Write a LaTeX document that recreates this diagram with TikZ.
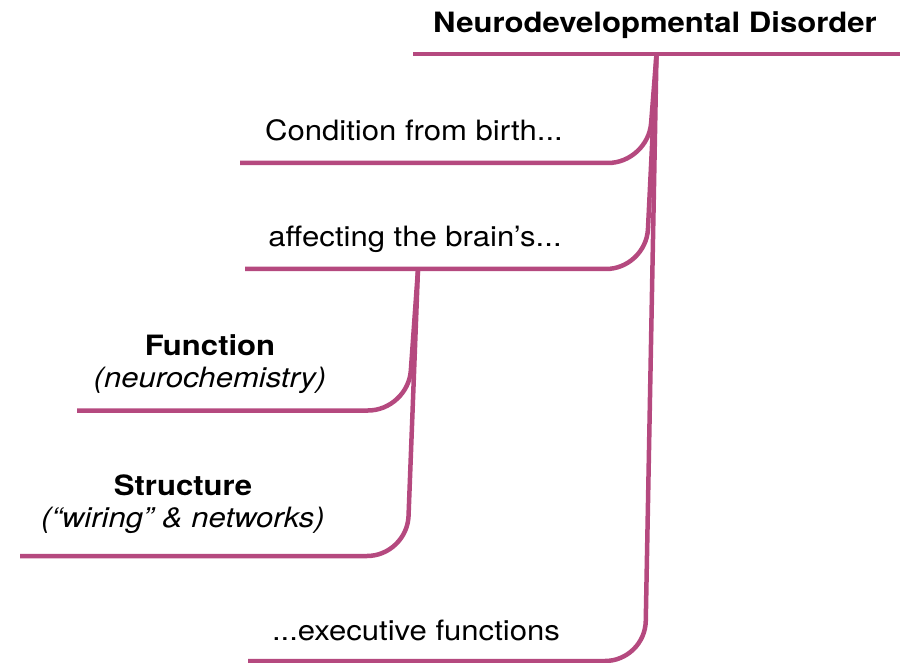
\documentclass[tikz,border=0pt]{standalone}
\usepackage{fontspec}
\setmainfont{TeX Gyre Heros}[FakeStretch=1.11]
\definecolor{mindpink}{RGB}{181,73,127}
\newcommand\mapsize{\fontsize{28}{32}\selectfont}
\tikzset{
  stem/.style={draw=mindpink, line width=4.5pt, rounded corners=40pt},
  topic/.style={inner sep=0pt, anchor=base, font=\mapsize},
  topicbf/.style={topic, font=\mapsize\bfseries},
  topicit/.style={topic, font=\mapsize\itshape},
}

\begin{document}
\begin{tikzpicture}[x=1pt, y=-1pt]
    \useasboundingbox (0,0) rectangle (908,663);
    % labels
    \node[topicbf] (nd) at (655,33) {Neurodevelopmental Disorder};
    \node[topic] (birth) at (414,141) {Condition from birth...};
    \node[topic] (brain) at (415,247) {affecting the brain’s...};
    \node[topicbf] (func) at (210,355) {Function};
    \node[topicit] (chem) at (210,387) {(neurochemistry)};
    \node[topicbf] (struct) at (183,495) {Structure};
    \node[topicit] (wiring) at (183,527) {(“wiring” \& networks)};
    \node[topic] (exec) at (416,640) {...executive functions};
    % branch points
    \coordinate (root) at (656.5,54);
    \coordinate (sub) at (418,269);
    \coordinate (ndL) at (413,54);
    \coordinate (ndR) at (900,54);
    % branches
    \draw[stem] (ndL) -- (ndR);
    \draw[stem] (root) -- (648,163) -- (240,163);
    \draw[stem] (root) -- (646,269) -- (245,269);
    \draw[stem] (root) -- (645,661) -- (248,661);
    \draw[stem] (sub) -- (408,410.5) -- (77,410.5);
    \draw[stem] (sub) -- (407,556) -- (20,556);
\end{tikzpicture}
\end{document}
